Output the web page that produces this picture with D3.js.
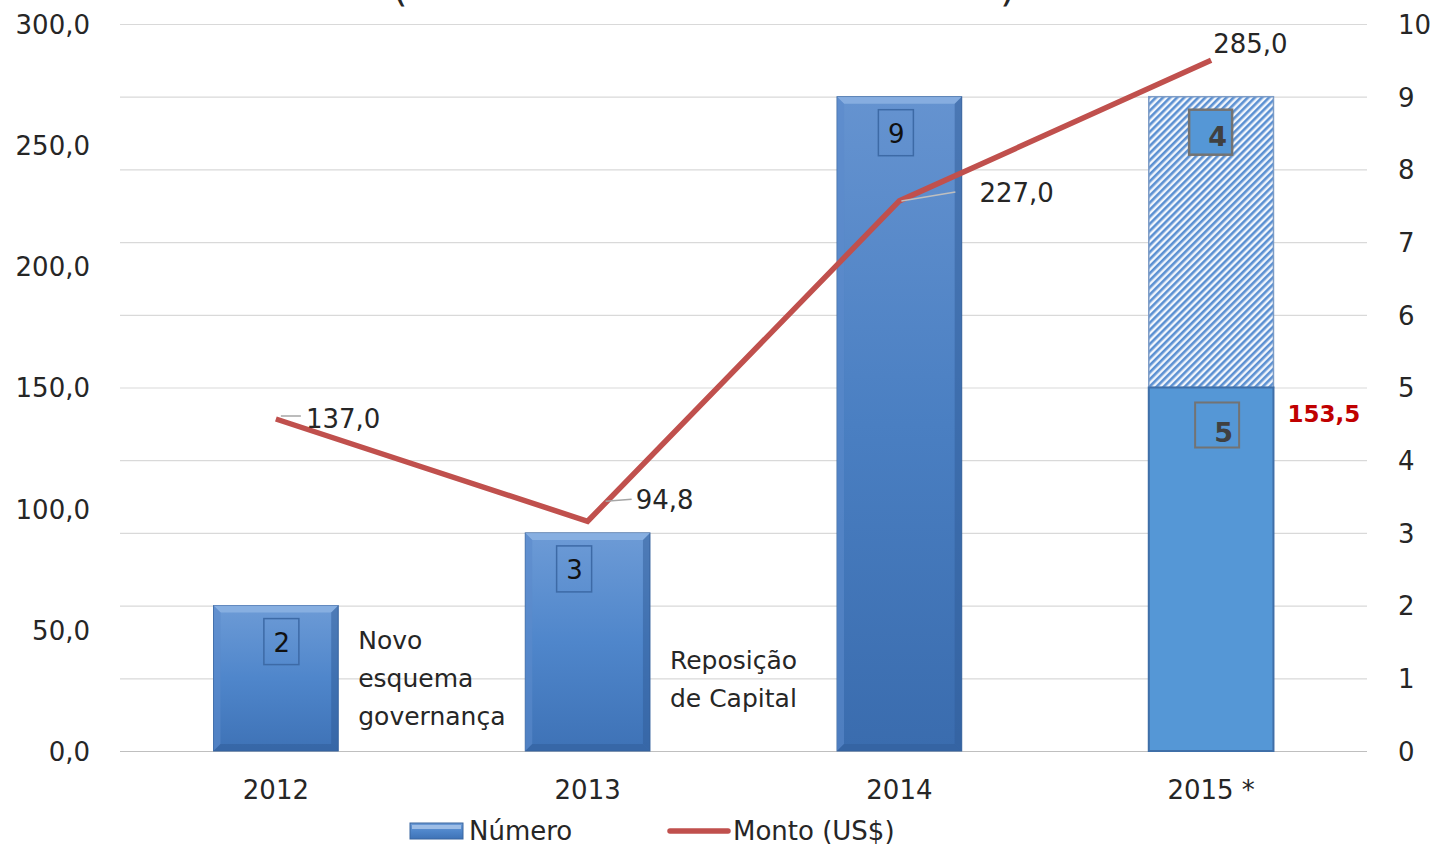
<!DOCTYPE html>
<html><head><meta charset="utf-8">
<script src="https://cdn.jsdelivr.net/npm/d3@7"></script>
<style>body{margin:0;background:#fff;overflow:hidden}svg{display:block}text{font-family:"DejaVu Sans",Verdana,sans-serif;fill:#262626}</style>
</head><body>
<svg id="c" width="1437" height="844"></svg>
<script>
const categories = ["2012","2013","2014","2015 *"];
const numero = [2,3,9,5];          // solid bar counts
const numeroExtra = [0,0,0,4];     // hatched portion (2015)
const monto = [137.0,94.8,227.0,285.0];
const montoLabels = ["137,0","94,8","227,0","285,0"];
const leftTicks = [0,50,100,150,200,250,300];
const rightTicks = [0,1,2,3,4,5,6,7,8,9,10];
const partialMonto = 153.5;
const notes = [{cat:"2012", lines:["Novo","esquema","governança"]},{cat:"2013", lines:["Reposição","de Capital"]}];

const svg = d3.select("#c");
const X0=120, X1=1367, Y0=751, Y1=24;
const x = d3.scaleBand().domain(categories).range([X0,X1]).paddingInner(0.6).paddingOuter(0.3);
const xc = d => x(d)+x.bandwidth()/2;
const yL = d3.scaleLinear().domain([0,300]).range([Y0,Y1]);
const yR = d3.scaleLinear().domain([0,10]).range([Y0,Y1]);

const defs = svg.append("defs");
function grad(id, stops){const g=defs.append("linearGradient").attr("id",id).attr("x1",0).attr("y1",0).attr("x2",0).attr("y2",1);
 stops.forEach(s=>g.append("stop").attr("offset",s[0]).attr("stop-color",s[1]));}
grad("gb",[[0,"#6d9bd6"],[0.5,"#4f86cb"],[1,"#3e72b6"]]);
grad("gb2",[[0,"#6593d0"],[0.5,"#4a7fc2"],[1,"#3a6cae"]]);
const pat = defs.append("pattern").attr("id","hatch").attr("patternUnits","userSpaceOnUse").attr("width",5).attr("height",5).attr("patternTransform","rotate(45)");
pat.append("rect").attr("width",5).attr("height",5).attr("fill","#f2f6fc");
pat.append("rect").attr("width",2.6).attr("height",5).attr("fill","#5b90d2");

// gridlines
svg.append("g").selectAll("line").data(rightTicks).join("line")
 .attr("x1",X0).attr("x2",X1).attr("y1",d=>yR(d)+0.5).attr("y2",d=>yR(d)+0.5)
 .attr("stroke",d=>d===0?"#bfbfbf":"#d9d9d9").attr("stroke-width",1.2);

// axes
const axL = svg.append("g").attr("transform",`translate(${X0},0)`)
 .call(d3.axisLeft(yL).tickValues(leftTicks).tickSize(0).tickPadding(30).tickFormat(d=>d3.format(".1f")(d).replace(".",",")));
const axR = svg.append("g").attr("transform",`translate(${X1},0)`)
 .call(d3.axisRight(yR).tickValues(rightTicks).tickSize(0).tickPadding(31).tickFormat(d3.format("d")));
const axB = svg.append("g").attr("transform",`translate(0,${Y0})`)
 .call(d3.axisBottom(x).tickSize(0).tickPadding(28));
[axL,axR,axB].forEach(a=>{a.select(".domain").remove();a.selectAll("text").attr("font-size",26).attr("fill","#262626").style("font-family","DejaVu Sans");});
axL.selectAll("text").attr("dy","0.36em");
axR.selectAll("text").attr("dy","0.36em");
axB.selectAll("text").attr("dy","0.75em");

// bars
const bw = x.bandwidth();
const boxShift = [5,-14,-4];
function bevelBar(g, x0, yTop, yBot, fill){
 g.append("rect").attr("x",x0).attr("y",yTop).attr("width",bw).attr("height",yBot-yTop).attr("fill",fill).attr("stroke","#3a66a0").attr("stroke-width",1);
 const b=7;
 g.append("polygon").attr("points",`${x0},${yTop} ${x0+bw},${yTop} ${x0+bw-b},${yTop+b} ${x0+b},${yTop+b}`).attr("fill","#8fb4e3").attr("opacity",0.8);
 g.append("polygon").attr("points",`${x0},${yTop} ${x0+b},${yTop+b} ${x0+b},${yBot-b} ${x0},${yBot}`).attr("fill","#5b8bcb").attr("opacity",0.6);
 g.append("polygon").attr("points",`${x0+bw},${yTop} ${x0+bw-b},${yTop+b} ${x0+bw-b},${yBot-b} ${x0+bw},${yBot}`).attr("fill","#2f5c98").attr("opacity",0.5);
 g.append("polygon").attr("points",`${x0},${yBot} ${x0+b},${yBot-b} ${x0+bw-b},${yBot-b} ${x0+bw},${yBot}`).attr("fill","#2f5c98").attr("opacity",0.5);
}
const gBars = svg.append("g");
categories.forEach((c,i)=>{
 const x0=x(c);
 if(numeroExtra[i]>0){
  gBars.append("rect").attr("x",x0).attr("y",yR(numero[i]+numeroExtra[i])).attr("width",bw).attr("height",yR(numero[i])-yR(numero[i]+numeroExtra[i])).attr("fill","url(#hatch)").attr("stroke","#7d9cc6").attr("stroke-width",1.5);
  gBars.append("rect").attr("x",x0).attr("y",yR(numero[i])).attr("width",bw).attr("height",Y0-yR(numero[i])).attr("fill","#5597d6").attr("stroke","#3f6fa8").attr("stroke-width",2);
  const b4y = yR(numero[i]+numeroExtra[i])+13;
  gBars.append("rect").attr("x",xc(c)-22).attr("y",b4y).attr("width",43).attr("height",45).attr("fill","#5597d6").attr("stroke","#737373").attr("stroke-width",2.5);
  gBars.append("text").attr("x",xc(c)+16).attr("y",b4y+36).attr("text-anchor","end").attr("font-size",27).attr("font-weight","bold").style("fill","#404040").text(numeroExtra[i]);
  const b5y = yR(numero[i])+15;
  gBars.append("rect").attr("x",xc(c)-16).attr("y",b5y).attr("width",44).attr("height",45).attr("fill","none").attr("stroke","#737373").attr("stroke-width",2);
  gBars.append("text").attr("x",xc(c)+22).attr("y",b5y+39).attr("text-anchor","end").attr("font-size",27).attr("font-weight","bold").style("fill","#404040").text(numero[i]);
 } else {
  bevelBar(gBars, x0, yR(numero[i]), Y0, i===2?"url(#gb2)":"url(#gb)");
  const by = yR(numero[i])+13;
  const cx = xc(c)+boxShift[i];
  gBars.append("rect").attr("x",cx-17).attr("y",by).attr("width",35).attr("height",46).attr("fill","none").attr("stroke","#3d6aa6").attr("stroke-width",1.5);
  gBars.append("text").attr("x",cx+1).attr("y",by+33).attr("text-anchor","middle").attr("font-size",26).style("fill","#111").text(numero[i]);
 }
});

// line
const line = d3.line().x((d,i)=>xc(categories[i])).y(d=>yL(d));
svg.append("path").datum(monto).attr("d",line).attr("fill","none").attr("stroke","#c0504d").attr("stroke-width",5.5).attr("stroke-linejoin","miter");

// line labels
const lblOff = [[30,0],[48,-22],[80,-8],[2,-17]];
const lbl = svg.append("g");
monto.forEach((v,i)=>{
 const px=xc(categories[i]), py=yL(v);
 lbl.append("text").attr("x",px+lblOff[i][0]).attr("y",py+lblOff[i][1]).attr("dy","0.36em").attr("font-size",26).text(montoLabels[i]);
});
lbl.append("line").attr("x1",xc(categories[0])+5).attr("y1",yL(monto[0])-3).attr("x2",xc(categories[0])+25).attr("y2",yL(monto[0])-3).attr("stroke","#a6a6a6").attr("stroke-width",1.5);
lbl.append("line").attr("x1",xc(categories[1])+18).attr("y1",yL(monto[1])-20).attr("x2",xc(categories[1])+44).attr("y2",yL(monto[1])-22).attr("stroke","#a6a6a6").attr("stroke-width",1.5);
lbl.append("line").attr("x1",xc(categories[2])+2).attr("y1",yL(monto[2])).attr("x2",xc(categories[2])+56).attr("y2",yL(monto[2])-9).attr("stroke","#bfbfbf").attr("stroke-width",1.5);

// partial 2015 value
svg.append("text").attr("x",x("2015 *")+bw+14).attr("y",yR(numero[3])+26).attr("dy","0.36em").attr("font-size",23).attr("font-weight","bold").style("fill","#c00000").text(d3.format(".1f")(partialMonto).replace(".",","));

// notes
notes.forEach((n,k)=>{
 const tx = x(n.cat)+bw+20;
 const ty = k===0?640:660;
 n.lines.forEach((l,j)=>svg.append("text").attr("x",tx).attr("y",ty+j*38).attr("dy","0.36em").attr("font-size",25).text(l));
});

// title remnants (clipped at top)
svg.append("text").attr("x",392).attr("y",1).attr("font-size",40).style("fill","#262626").text("(");
svg.append("text").attr("x",1000).attr("y",1).attr("font-size",40).style("fill","#262626").text(")");

// legend
const lg = svg.append("g");
lg.append("rect").attr("x",410).attr("y",823).attr("width",53).attr("height",16).attr("fill","url(#gb)").attr("stroke","#3a66a0");
lg.append("rect").attr("x",412).attr("y",825).attr("width",49).attr("height",4).attr("fill","#9dbde6");
lg.append("text").attr("x",469).attr("y",831).attr("dy","0.36em").attr("font-size",26).text("Número");
lg.append("line").attr("x1",670).attr("x2",728).attr("y1",831).attr("y2",831).attr("stroke","#c0504d").attr("stroke-width",5.5).attr("stroke-linecap","round");
lg.append("text").attr("x",733).attr("y",831).attr("dy","0.36em").attr("font-size",26).text("Monto (US$)");
</script>
</body></html>
